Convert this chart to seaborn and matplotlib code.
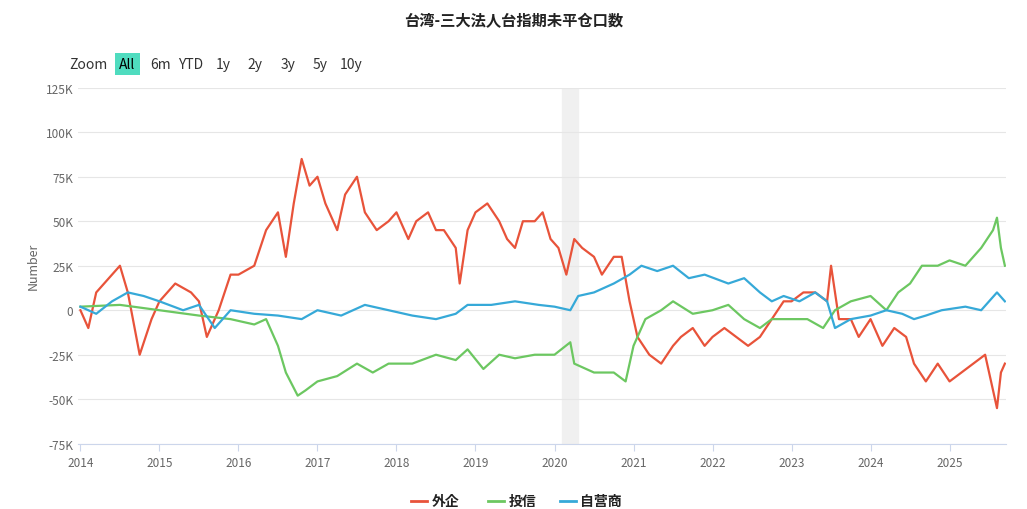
import matplotlib
matplotlib.use("Agg")
import matplotlib.pyplot as plt
from matplotlib import font_manager as fm
import seaborn as sns
import pandas as pd
from matplotlib.ticker import FuncFormatter

cjk = None
for f in fm.fontManager.ttflist:
    if "CJK" in f.name and ("SC" in f.name or cjk is None):
        cjk = f.name
        if "SC" in f.name:
            break
if cjk is None:
    for path in fm.findSystemFonts():
        if "CJK" in path:
            fm.fontManager.addfont(path)
            cjk = fm.FontProperties(fname=path).get_name()
            break
plt.rcParams["font.family"] = [cjk or "Noto Sans CJK SC", "DejaVu Sans"]

red_t = [2014.0,2014.1,2014.2,2014.4,2014.5,2014.6,2014.75,2014.9,2015.0,2015.2,2015.4,2015.5,2015.6,2015.75,2015.9,2016.0,2016.2,2016.35,2016.5,2016.6,2016.7,2016.8,2016.9,2017.0,2017.1,2017.25,2017.35,2017.5,2017.6,2017.75,2017.9,2018.0,2018.15,2018.25,2018.4,2018.5,2018.6,2018.75,2018.8,2018.9,2019.0,2019.15,2019.3,2019.4,2019.5,2019.6,2019.75,2019.85,2019.95,2020.05,2020.15,2020.25,2020.35,2020.5,2020.6,2020.75,2020.85,2020.95,2021.05,2021.2,2021.35,2021.5,2021.6,2021.75,2021.9,2022.0,2022.15,2022.3,2022.45,2022.6,2022.75,2022.9,2023.0,2023.15,2023.3,2023.45,2023.5,2023.6,2023.75,2023.85,2024.0,2024.15,2024.3,2024.45,2024.55,2024.7,2024.85,2025.0,2025.15,2025.3,2025.45,2025.55,2025.6,2025.65,2025.7]
red_v = [0,-10,10,20,25,10,-25,-5,5,15,10,5,-15,0,20,20,25,45,55,30,60,85,70,75,60,45,65,75,55,45,50,55,40,50,55,45,45,35,15,45,55,60,50,40,35,50,50,55,40,35,20,40,35,30,20,30,30,5,-15,-25,-30,-20,-15,-10,-20,-15,-10,-15,-20,-15,-5,5,5,10,10,5,25,-5,-5,-15,-5,-20,-10,-15,-30,-40,-30,-40,-35,-30,-25,-45,-55,-35,-30]

green_t = [2014.0,2014.5,2015.0,2015.5,2015.9,2016.2,2016.35,2016.5,2016.6,2016.75,2016.85,2017.0,2017.25,2017.5,2017.7,2017.9,2018.2,2018.5,2018.75,2018.9,2019.1,2019.3,2019.5,2019.75,2020.0,2020.2,2020.25,2020.5,2020.75,2020.9,2021.0,2021.15,2021.35,2021.5,2021.75,2022.0,2022.2,2022.4,2022.6,2022.75,2023.0,2023.2,2023.4,2023.55,2023.75,2024.0,2024.2,2024.35,2024.5,2024.65,2024.85,2025.0,2025.2,2025.4,2025.55,2025.6,2025.65,2025.7]
green_v = [2,3,0,-3,-5,-8,-5,-20,-35,-48,-45,-40,-37,-30,-35,-30,-30,-25,-28,-22,-33,-25,-27,-25,-25,-18,-30,-35,-35,-40,-20,-5,0,5,-2,0,3,-5,-10,-5,-5,-5,-10,0,5,8,0,10,15,25,25,28,25,35,45,52,35,25]

blue_t = [2014.0,2014.2,2014.4,2014.6,2014.8,2015.0,2015.3,2015.5,2015.7,2015.9,2016.2,2016.5,2016.8,2017.0,2017.3,2017.6,2017.9,2018.2,2018.5,2018.75,2018.9,2019.2,2019.5,2019.8,2020.0,2020.2,2020.3,2020.5,2020.75,2020.95,2021.1,2021.3,2021.5,2021.7,2021.9,2022.2,2022.4,2022.6,2022.75,2022.9,2023.1,2023.3,2023.45,2023.55,2023.75,2024.0,2024.2,2024.4,2024.55,2024.7,2024.9,2025.2,2025.4,2025.5,2025.6,2025.7]
blue_v = [2,-2,5,10,8,5,0,3,-10,0,-2,-3,-5,0,-3,3,0,-3,-5,-2,3,3,5,3,2,0,8,10,15,20,25,22,25,18,20,15,18,10,5,8,5,10,5,-10,-5,-3,0,-2,-5,-3,0,2,0,5,10,5]

years = list(range(2014, 2026))
series_names = ["外企", "投信", "自营商"]
colors = ["#e8533a", "#6cc761", "#36a9d8"]

df = pd.concat([
    pd.DataFrame({"t": red_t, "v": [x * 1000 for x in red_v], "s": "外企"}),
    pd.DataFrame({"t": green_t, "v": [x * 1000 for x in green_v], "s": "投信"}),
    pd.DataFrame({"t": blue_t, "v": [x * 1000 for x in blue_v], "s": "自营商"}),
])

fig = plt.figure(figsize=(10.27, 5.10), dpi=100)
ax = fig.add_axes([0.076, 0.128, 0.904, 0.698])
ax.axvspan(2020.1, 2020.3, color="#f0f0f0", zorder=0)
sns.lineplot(data=df, x="t", y="v", hue="s", palette=dict(zip(series_names, colors)),
             ax=ax, linewidth=1.6, legend=False, sort=False)
ax.set_xlim(2013.97, 2025.72)
ax.set_ylim(-75000, 125000)
ax.set_yticks(range(-75000, 125001, 25000))
ax.yaxis.set_major_formatter(FuncFormatter(lambda v, p: "0" if v == 0 else f"{int(v/1000)}K"))
ax.set_xticks(years)
ax.set_xticklabels([str(y) for y in years])
ax.grid(axis="y", color="#e6e6e6", linewidth=0.8)
ax.set_axisbelow(True)
for s in ["top", "right", "left"]:
    ax.spines[s].set_visible(False)
ax.spines["bottom"].set_color("#ccd6eb")
ax.tick_params(axis="y", length=0, labelsize=8.5, colors="#666666")
ax.tick_params(axis="x", length=5, color="#ccd6eb", labelsize=8.5, colors="#666666")
ax.set_xlabel("")
ax.set_ylabel("Number", fontsize=9, color="#666666")

fig.text(0.5, 0.975, "台湾-三大法人台指期未平仓口数", ha="center", va="top", fontsize=11, fontweight="bold", color="#222222")
fig.text(0.067, 0.872, "Zoom", fontsize=10, color="#333333", va="center")
btns = ["All", "6m", "YTD", "1y", "2y", "3y", "5y", "10y"]
bx = [0.116, 0.146, 0.173, 0.210, 0.241, 0.273, 0.304, 0.331]
for b, x in zip(btns, bx):
    if b == "All":
        fig.text(x, 0.872, b, fontsize=10, color="#000000", va="center",
                 bbox=dict(boxstyle="square,pad=0.3", fc="#4fdcbf", ec="none"))
    else:
        fig.text(x, 0.872, b, fontsize=10, color="#333333", va="center")

lx = [0.40, 0.475, 0.545]
for name, c, x in zip(series_names, colors, lx):
    fig.add_artist(plt.Line2D([x, x + 0.016], [0.015, 0.015], color=c, linewidth=2, transform=fig.transFigure))
    fig.text(x + 0.02, 0.015, name, fontsize=10, fontweight="bold", color="#222222", va="center")

fig.savefig("out.png", dpi=100, facecolor="white")
